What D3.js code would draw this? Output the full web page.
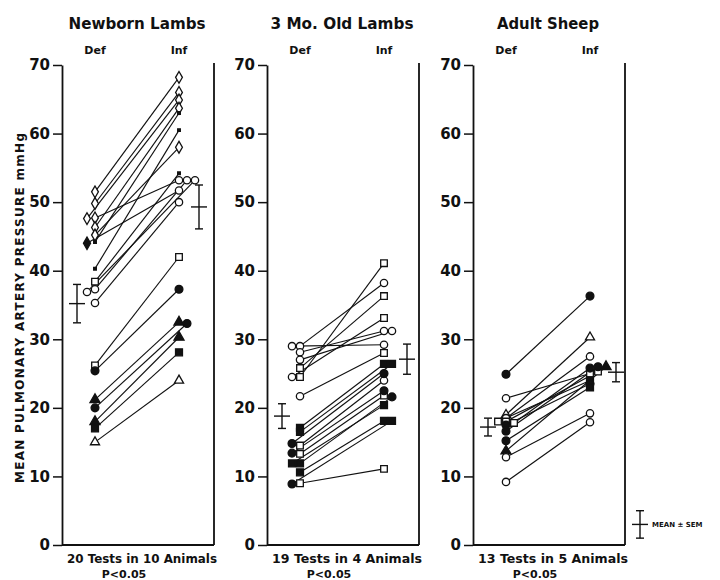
<!DOCTYPE html>
<html>
<head>
<meta charset="utf-8">
<title>Mean pulmonary artery pressure</title>
<style>
  body { margin: 0; background: #fff; }
  text { font-family: "DejaVu Sans", "Liberation Sans", sans-serif; font-weight: bold; fill: #111; }
</style>
</head>
<body>
<script src="https://cdnjs.cloudflare.com/ajax/libs/d3/7.8.5/d3.min.js"></script>
<script>

// tick labels / categories
var yTicks = [0, 10, 20, 30, 40, 50, 60, 70];
var conditions = ["Def", "Inf"];
var panelTitles = ["Newborn Lambs", "3 Mo. Old Lambs", "Adult Sheep"];
var panelFooters = ["20 Tests in 10 Animals", "19 Tests in 4 Animals", "13 Tests in 5 Animals"];
var pValues = ["P<0.05", "P<0.05", "P<0.05"];

// marker codes: o open circle, c filled circle, s open square, S filled square,
// t open triangle, T filled triangle, d open diamond, D filled diamond, x small mark

// Newborn lambs, 20 tests
var newbornDef = [51.5, 49.8, 47.7, 47.6, 46.3, 45.2, 44.2, 44.0, 40.3, 38.4, 37.3, 36.9, 35.3, 26.2, 25.4, 21.2, 20.0, 18.0, 17.0, 15.0];
var newbornInf = [68.2, 66.0, 53.2, 64.9, 63.7, 58.0, 63.0, 51.7, 60.5, 54.2, 53.2, 53.2, 50.0, 42.0, 37.3, 32.5, 32.3, 30.3, 28.1, 24.0];
var newbornDefMark = ["d","d","d","d","d","d","x","D","x","s","o","o","o","s","c","T","c","T","S","t"];
var newbornInfMark = ["d","d","o","d","d","d","x","o","x","x","o","o","o","s","c","T","c","T","S","t"];
var newbornMean = [35.2, 49.3];
var newbornSem = [2.8, 3.2];

// 3 month old lambs, 19 tests
var lambsDef = [29.0, 29.0, 28.1, 27.0, 25.8, 24.5, 24.5, 21.7, 17.1, 16.5, 14.5, 14.8, 13.3, 13.4, 11.9, 11.9, 10.6, 9.0, 8.9];
var lambsInf = [38.2, 29.2, 31.2, 31.2, 36.3, 41.1, 33.1, 28.0, 26.4, 26.4, 24.0, 25.0, 21.8, 22.5, 21.6, 20.4, 18.1, 11.1, 18.1];
var lambsDefMark = ["o","o","o","o","s","s","o","o","S","S","s","c","s","c","S","S","S","s","c"];
var lambsInfMark = ["o","o","o","o","s","s","s","s","S","S","o","c","s","c","c","S","S","s","S"];
var lambsMean = [18.8, 27.1];
var lambsSem = [1.8, 2.2];

// Adult sheep, 13 tests
var adultDef = [24.9, 21.4, 19.0, 18.5, 18.0, 18.0, 17.8, 17.5, 16.6, 15.2, 13.7, 12.8, 9.2];
var adultInf = [36.3, 25.0, 30.3, 27.5, 25.3, 24.0, 25.8, 23.5, 26.0, 23.0, 26.0, 19.2, 17.9];
var adultDefMark = ["c","o","t","o","s","s","s","c","c","c","T","o","o"];
var adultInfMark = ["c","s","t","o","s","S","c","c","c","S","T","o","o"];
var adultMean = [17.2, 25.2];
var adultSem = [1.3, 1.4];

// key
var keyMean = 3;
var keySem = 2;

var panels = [
	{ title: panelTitles[0], footer: panelFooters[0], p: pValues[0], def: newbornDef, inf: newbornInf, defMark: newbornDefMark, infMark: newbornInfMark, mean: newbornMean, sem: newbornSem },
	{ title: panelTitles[1], footer: panelFooters[1], p: pValues[1], def: lambsDef, inf: lambsInf, defMark: lambsDefMark, infMark: lambsInfMark, mean: lambsMean, sem: lambsSem },
	{ title: panelTitles[2], footer: panelFooters[2], p: pValues[2], def: adultDef, inf: adultInf, defMark: adultDefMark, infMark: adultInfMark, mean: adultMean, sem: adultSem }
];

var W = 720, H = 580;
var svg = d3.select('body').append('svg')
	.attr('width', W)
	.attr('height', H);

var y = d3.scaleLinear().domain([0, 70]).range([545, 65]);
var axisX = [62, 267, 473];
var panelW = 152;
var titleLen = [137, 143, 102];

// y axis title
svg.append('text')
	.attr('transform', 'translate(24,' + 308 + ') rotate(-90)')
	.attr('text-anchor', 'middle')
	.attr('font-size', 12)
	.attr('textLength', 350)
	.attr('lengthAdjust', 'spacing')
	.text('MEAN  PULMONARY  ARTERY  PRESSURE  mmHg');

// pushes overlapping markers sideways (Def to the left, Inf to the right)
function dodge(vals, dir) {
	var placed = [];
	var order = dir < 0 ? [0, -1, 1] : [0, 1, 2];
	return vals.map(function (v) {
		for (var k = 0; k < order.length; k++) {
			var hit = placed.some(function (p) { return p.lane == order[k] && Math.abs(p.v - v) < 0.45; });
			if (!hit) { placed.push({ v: v, lane: order[k] }); return order[k]; }
		}
		return 0;
	});
}

var sym = {
	o: { type: d3.symbolCircle, size: 42, fill: false },
	c: { type: d3.symbolCircle, size: 48, fill: true },
	s: { type: d3.symbolSquare, size: 44, fill: false },
	S: { type: d3.symbolSquare, size: 48, fill: true },
	t: { type: d3.symbolTriangle, size: 36, fill: false },
	T: { type: d3.symbolTriangle, size: 44, fill: true },
	d: { type: d3.symbolDiamond, size: 40, fill: false },
	D: { type: d3.symbolDiamond, size: 44, fill: true },
	x: { type: d3.symbolSquare, size: 7, fill: true }
};

function drawMarker(g, code, cx, cy) {
	var s = sym[code];
	g.append('path')
		.attr('d', d3.symbol().type(s.type).size(s.size)())
		.attr('transform', 'translate(' + cx + ',' + cy + ')')
		.attr('fill', s.fill ? '#111' : '#fff')
		.attr('stroke', '#111')
		.attr('stroke-width', 1.3);
}

function errorBar(g, cx, mean, sem) {
	var top = y(mean + sem), bot = y(mean - sem), m = y(mean);
	g.append('line').attr('x1', cx).attr('x2', cx).attr('y1', top).attr('y2', bot);
	g.append('line').attr('x1', cx - 4).attr('x2', cx + 4).attr('y1', top).attr('y2', top);
	g.append('line').attr('x1', cx - 4).attr('x2', cx + 4).attr('y1', bot).attr('y2', bot);
	g.append('line').attr('x1', cx - 8).attr('x2', cx + 8).attr('y1', m).attr('y2', m);
	g.selectAll('line').attr('stroke', '#111').attr('stroke-width', 1.4);
}

panels.forEach(function (p, i) {
	var ax = axisX[i];
	var g = svg.append('g');
	var x = d3.scalePoint().domain(conditions).range([ax + 33, ax + 117]);
	var laneStep = 8;

	// axis
	var yAxis = d3.axisLeft(y).tickValues(yTicks).tickSize(9).tickSizeOuter(0).tickPadding(3);
	var ag = g.append('g').attr('transform', 'translate(' + ax + ',0)').call(yAxis);
	ag.select('.domain').attr('stroke', '#111').attr('stroke-width', 1.8);
	ag.selectAll('.tick line').attr('stroke', '#111').attr('stroke-width', 1.5);
	ag.selectAll('.tick text').attr('font-size', 15).attr('font-family', '"DejaVu Sans", sans-serif').attr('font-weight', 'bold').attr('fill', '#111');

	// bottom and right frame
	g.append('line').attr('x1', ax).attr('x2', ax + panelW).attr('y1', y(0)).attr('y2', y(0))
		.attr('stroke', '#111').attr('stroke-width', 1.8);
	g.append('line').attr('x1', ax + panelW).attr('x2', ax + panelW).attr('y1', y(70) - 2).attr('y2', y(0))
		.attr('stroke', '#111').attr('stroke-width', 1.8);

	// titles
	g.append('text').attr('x', ax + 75).attr('y', 29).attr('text-anchor', 'middle')
		.attr('font-size', 15).attr('textLength', titleLen[i]).attr('lengthAdjust', 'spacingAndGlyphs')
		.text(p.title);
	conditions.forEach(function (c) {
		g.append('text').attr('x', x(c)).attr('y', 54).attr('text-anchor', 'middle')
			.attr('font-size', 11).text(c);
	});
	g.append('text').attr('x', ax + 80).attr('y', 563).attr('text-anchor', 'middle')
		.attr('font-size', 12).attr('textLength', 150).attr('lengthAdjust', 'spacingAndGlyphs')
		.text(p.footer);
	g.append('text').attr('x', ax + 62).attr('y', 578).attr('text-anchor', 'middle')
		.attr('font-size', 11).text(p.p);

	var dl = dodge(p.def, -1), il = dodge(p.inf, 1);

	// connecting lines
	g.selectAll('line.pair').data(p.def).enter().append('line')
		.attr('class', 'pair')
		.attr('x1', function (d, k) { return x('Def') + dl[k] * laneStep; })
		.attr('y1', function (d) { return y(d); })
		.attr('x2', function (d, k) { return x('Inf') + il[k] * laneStep; })
		.attr('y2', function (d, k) { return y(p.inf[k]); })
		.attr('stroke', '#111')
		.attr('stroke-width', 1.15);

	// markers
	p.def.forEach(function (v, k) { drawMarker(g, p.defMark[k], x('Def') + dl[k] * laneStep, y(v)); });
	p.inf.forEach(function (v, k) { drawMarker(g, p.infMark[k], x('Inf') + il[k] * laneStep, y(v)); });

	// mean +- SEM
	errorBar(g.append('g'), ax + 15, p.mean[0], p.sem[0]);
	errorBar(g.append('g'), ax + 137 + i * 3, p.mean[1], p.sem[1]);
});

// key
var kg = svg.append('g');
errorBar(kg, 640, keyMean, keySem);
svg.append('text').attr('x', 652).attr('y', y(keyMean) + 3)
	.attr('font-size', 7).text('MEAN ± SEM');

</script>
</body>
</html>
